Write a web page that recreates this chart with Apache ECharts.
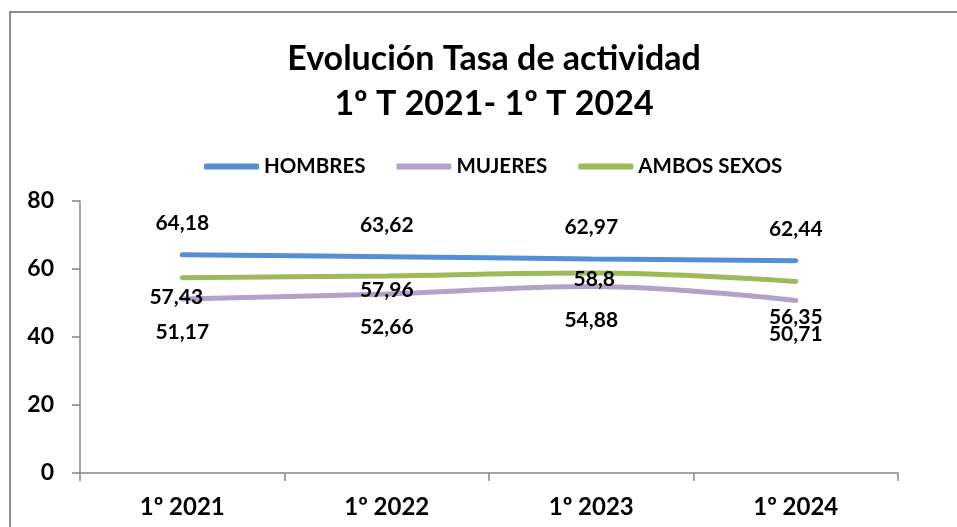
<!DOCTYPE html>
<html>
<head>
<meta charset="utf-8">
<script src="https://cdn.jsdelivr.net/npm/echarts@6/dist/echarts.min.js"></script>
<style>
html,body{margin:0;padding:0;background:#fff;}
#chart{width:957px;height:527px;}
</style>
</head>
<body>
<div id="chart"></div>
<script>
const categories = ['1º 2021', '1º 2022', '1º 2023', '1º 2024'];
const hombres = [64.18, 63.62, 62.97, 62.44];
const mujeres = [51.17, 52.66, 54.88, 50.71];
const ambos = [57.43, 57.96, 58.8, 56.35];
const seriesNames = ['HOMBRES', 'MUJERES', 'AMBOS SEXOS'];
const yTicks = { min: 0, max: 80, interval: 20 };

// label offsets for AMBOS SEXOS (manually placed in original)
const ambosLabelOffsets = [[-6, 19], [0, 14], [3, 6], [0, 36]];

const FONT = 'Lato';
const fmt = p => String(p.value).replace('.', ',');
const labelBase = { show: true, color: '#000', fontFamily: FONT, fontWeight: 'bold', fontSize: 21, formatter: fmt };

const chart = echarts.init(document.getElementById('chart'));
const mk = (name, data, color, label) => ({
  name, type: 'line', data, smooth: 0.4, color,
  symbol: 'circle', symbolSize: 0, showSymbol: true,
  itemStyle: { color },
  lineStyle: { color, width: 5, cap: 'round' },
  label, emphasis: { disabled: true }, animation: false
});

chart.setOption({
  animation: false,
  graphic: [{
    type: 'polyline', z: -1,
    shape: { points: [[10, 700], [10, 12], [1100, 12]] },
    style: { fill: 'none', stroke: '#8c8c8c', lineWidth: 2 }
  }],
  title: {
    text: 'Evolución Tasa de actividad\n1º T 2021- 1º T 2024',
    left: 489, top: 32, textAlign: 'center',
    textStyle: { fontFamily: FONT, fontWeight: 'bold', fontSize: 34, lineHeight: 45, color: '#000' }
  },
  legend: {
    data: seriesNames, left: 199, top: 151, itemWidth: 55, itemHeight: 6, itemGap: 31,
    icon: 'roundRect',
    textStyle: { fontFamily: FONT, fontWeight: 'bold', fontSize: 20.5, color: '#000' }
  },
  grid: { left: 80, right: 59, top: 201, bottom: 54 },
  xAxis: {
    type: 'category', data: categories, boundaryGap: true,
    axisLine: { lineStyle: { color: '#868686', width: 1.5 } },
    axisTick: { show: true, length: 8, lineStyle: { color: '#868686', width: 1.5 } },
    axisLabel: { margin: 22, fontFamily: FONT, fontWeight: 'bold', fontSize: 24, color: '#000' },
    splitLine: { show: false }
  },
  yAxis: {
    type: 'value', min: yTicks.min, max: yTicks.max, interval: yTicks.interval,
    axisLine: { show: true, lineStyle: { color: '#868686', width: 1.5 } },
    axisTick: { show: true, length: 8, lineStyle: { color: '#868686', width: 1.5 } },
    axisLabel: { margin: 26, fontFamily: FONT, fontWeight: 'bold', fontSize: 23, color: '#000' },
    splitLine: { show: false }
  },
  series: [
    mk(seriesNames[0], hombres, '#558ED5', Object.assign({}, labelBase, { position: 'top', distance: 21 })),
    mk(seriesNames[1], mujeres, '#B3A2C7', Object.assign({}, labelBase, { position: 'bottom', distance: 23 })),
    mk(seriesNames[2], ambos.map((v, i) => ({ value: v, label: { offset: ambosLabelOffsets[i] } })), '#9BBB59',
       Object.assign({}, labelBase, { position: 'inside' }))
  ]
});
</script>
</body>
</html>
